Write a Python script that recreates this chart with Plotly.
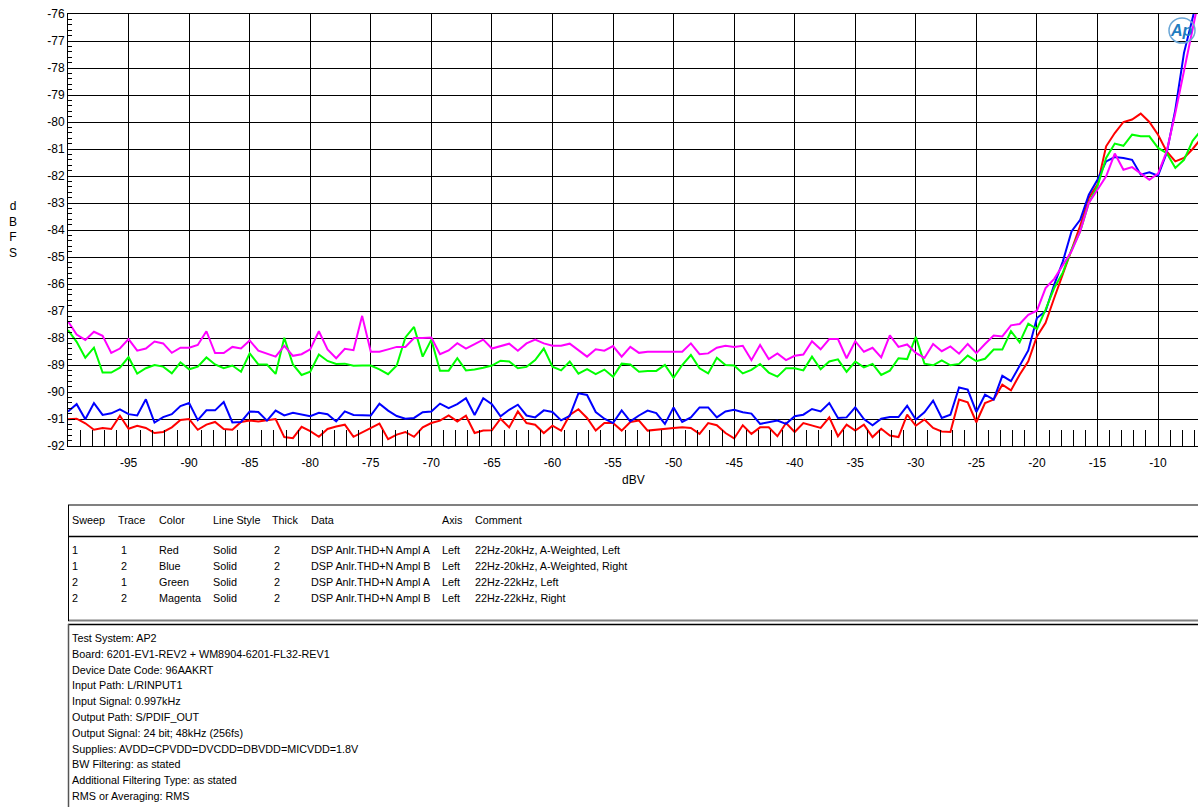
import numpy as np
import plotly.graph_objects as go

# ---------------- data ----------------
sweep_start = -100.0
sweep_step = 5.0 / 7.0
n_points = 132
dbv = [round(sweep_start + i * sweep_step, 4) for i in range(n_points)]

red = [-91.01, -90.99, -91.16, -91.40, -91.33, -91.37, -90.88, -91.36, -91.25, -91.33,
       -91.52, -91.48, -91.31, -91.04, -91.00, -91.40, -91.21, -91.11, -91.37, -91.40,
       -91.11, -91.06, -91.09, -91.04, -91.00, -91.67, -91.71, -91.29, -91.45, -91.66,
       -91.37, -91.28, -91.21, -91.66, -91.49, -91.33, -91.17, -91.75, -91.58, -91.48,
       -91.66, -91.31, -91.15, -91.06, -90.87, -91.09, -90.88, -91.52, -91.43, -91.42,
       -90.99, -91.31, -90.72, -91.15, -91.21, -91.52, -91.25, -91.43, -90.85, -90.64,
       -90.96, -91.43, -91.15, -91.15, -91.43, -91.11, -91.06, -91.43, -91.39, -91.36,
       -91.33, -91.31, -91.33, -91.55, -91.15, -91.23, -91.52, -91.72, -91.23, -91.55,
       -91.31, -91.31, -91.64, -91.15, -91.48, -91.15, -91.25, -91.33, -90.94, -91.64,
       -91.21, -91.43, -91.21, -91.67, -91.36, -91.61, -91.67, -90.84, -91.25, -91.02,
       -91.33, -91.46, -91.48, -90.28, -90.38, -91.12, -90.41, -90.28, -89.73, -89.94,
       -89.36, -88.86, -87.94, -87.44, -86.52, -85.65, -84.73, -83.85, -82.81, -82.32,
       -80.90, -80.41, -80.00, -79.91, -79.69, -80.00, -80.47, -81.09, -81.46, -81.33,
       -81.00, -80.60]

blue = [-90.72, -90.45, -91.01, -90.41, -90.85, -90.79, -90.64, -90.82, -90.87, -90.27,
        -91.13, -90.93, -90.82, -90.52, -90.41, -91.04, -90.68, -90.68, -90.37, -91.13,
        -91.11, -90.72, -90.74, -91.06, -90.69, -90.87, -90.77, -90.83, -90.90, -90.77,
        -90.82, -91.09, -90.72, -90.85, -90.85, -90.87, -90.43, -90.69, -90.89, -90.99,
        -90.96, -90.75, -90.72, -90.43, -90.60, -90.45, -90.23, -90.85, -90.23, -90.45,
        -90.90, -90.66, -90.47, -90.87, -90.94, -90.68, -90.74, -91.05, -90.88, -90.05,
        -90.11, -90.74, -90.99, -91.15, -90.68, -91.09, -90.87, -90.69, -90.78, -91.18,
        -90.57, -91.11, -90.94, -90.57, -90.57, -90.94, -90.72, -90.66, -90.75, -90.80,
        -91.18, -91.12, -91.06, -91.18, -90.90, -90.84, -90.63, -90.72, -90.41, -90.96,
        -90.94, -90.57, -91.00, -91.23, -90.99, -90.93, -90.93, -90.51, -91.02, -90.75,
        -90.32, -90.96, -90.84, -89.83, -89.91, -90.74, -90.10, -90.28, -89.40, -89.60,
        -89.01, -88.46, -87.26, -87.01, -86.02, -85.16, -84.05, -83.62, -82.69, -82.14,
        -81.46, -81.30, -81.33, -81.40, -81.95, -81.86, -81.99, -81.15, -79.54, -77.44,
        -76.15, -74.80]

green = [-87.71, -88.14, -88.73, -88.36, -89.28, -89.28, -89.10, -88.71, -89.32, -89.12,
         -89.00, -89.06, -89.31, -88.90, -89.16, -89.06, -88.72, -88.98, -89.12, -89.02,
         -89.25, -88.57, -88.98, -88.98, -89.33, -87.99, -88.98, -89.37, -89.25, -88.61,
         -88.85, -88.96, -88.95, -89.03, -89.02, -89.02, -89.16, -89.34, -89.02, -87.98,
         -87.59, -88.69, -88.06, -89.21, -89.21, -88.75, -89.20, -89.17, -89.10, -89.02,
         -88.84, -88.87, -89.12, -89.07, -88.82, -88.39, -89.06, -89.20, -88.87, -89.32,
         -89.15, -89.34, -89.17, -89.44, -88.95, -88.98, -89.25, -89.22, -89.22, -89.00,
         -89.47, -89.00, -88.63, -89.12, -89.31, -88.73, -89.00, -89.02, -89.31, -89.18,
         -88.96, -89.28, -89.43, -89.12, -89.12, -89.20, -88.69, -89.16, -88.87, -88.79,
         -89.25, -88.87, -89.09, -88.96, -89.37, -89.21, -88.75, -88.78, -87.96, -88.95,
         -89.01, -88.83, -89.01, -88.96, -88.65, -88.86, -88.77, -88.43, -88.43, -87.75,
         -88.16, -87.47, -87.67, -86.95, -86.15, -85.57, -84.73, -84.05, -83.00, -82.38,
         -81.33, -80.80, -80.88, -80.47, -80.53, -80.53, -80.96, -81.15, -81.70, -81.40,
         -80.70, -80.30]

magenta = [-87.38, -87.87, -88.07, -87.77, -87.92, -88.55, -88.39, -88.04, -88.47, -88.39,
           -88.13, -88.20, -88.55, -88.36, -88.36, -88.26, -87.75, -88.56, -88.56, -88.33,
           -88.39, -88.09, -88.47, -88.58, -88.69, -88.29, -88.66, -88.60, -88.42, -87.75,
           -88.42, -88.75, -88.40, -88.45, -87.18, -88.51, -88.51, -88.42, -88.33, -88.33,
           -88.00, -88.00, -87.98, -88.60, -88.46, -88.19, -88.39, -88.23, -88.06, -88.39,
           -88.31, -88.21, -88.47, -88.20, -88.06, -88.20, -88.29, -88.29, -88.21, -88.44,
           -88.69, -88.42, -88.47, -88.30, -88.69, -88.33, -88.55, -88.51, -88.51, -88.51,
           -88.51, -88.51, -88.20, -88.60, -88.57, -88.36, -88.29, -88.33, -88.29, -88.82,
           -88.26, -88.78, -88.57, -88.82, -88.66, -88.61, -88.12, -88.42, -88.04, -88.04,
           -88.75, -88.12, -88.51, -88.36, -88.72, -87.90, -88.33, -88.24, -88.55, -88.74,
           -88.22, -88.49, -88.31, -88.58, -88.22, -88.56, -88.22, -87.91, -87.94, -87.53,
           -87.48, -87.14, -86.99, -86.15, -85.81, -85.28, -84.79, -84.05, -83.00, -82.51,
           -82.01, -81.17, -81.77, -81.67, -81.89, -82.14, -81.91, -81.09, -79.67, -78.06,
           -76.46, -75.00]

x_tick_vals = [-95, -90, -85, -80, -75, -70, -65, -60, -55, -50, -45, -40, -35, -30, -25, -20, -15, -10]
x_tick_text = [str(v) for v in x_tick_vals]
y_tick_vals = list(range(-92, -75))
y_tick_text = [str(v) for v in y_tick_vals]

table_header = ["Sweep", "Trace", "Color", "Line Style", "Thick", "Data", "Axis", "Comment"]
table_rows = [
    ["1", "1", "Red", "Solid", "2", "DSP Anlr.THD+N Ampl A", "Left", "22Hz-20kHz, A-Weighted, Left"],
    ["1", "2", "Blue", "Solid", "2", "DSP Anlr.THD+N Ampl B", "Left", "22Hz-20kHz, A-Weighted, Right"],
    ["2", "1", "Green", "Solid", "2", "DSP Anlr.THD+N Ampl A", "Left", "22Hz-22kHz, Left"],
    ["2", "2", "Magenta", "Solid", "2", "DSP Anlr.THD+N Ampl B", "Left", "22Hz-22kHz, Right"],
]
notes = [
    "Test System: AP2",
    "Board: 6201-EV1-REV2 + WM8904-6201-FL32-REV1",
    "Device Date Code: 96AAKRT",
    "Input Path: L/RINPUT1",
    "Input Signal: 0.997kHz",
    "Output Path: S/PDIF_OUT",
    "Output Signal: 24 bit; 48kHz (256fs)",
    "Supplies: AVDD=CPVDD=DVCDD=DBVDD=MICVDD=1.8V",
    "BW Filtering: as stated",
    "Additional Filtering Type: as stated",
    "RMS or Averaging: RMS",
]

# ---------------- layout helpers ----------------
W, H = 1198, 807
ML, MR, MT, MB = 68, 0, 14, 361
PW = W - ML - MR          # 1130
PH = H - MT - MB          # 432
FONT = "Liberation Sans, Arial, sans-serif"


def px(xs):
    """screen x -> paper x"""
    return (xs - ML) / PW


def py(ys):
    """screen y -> paper y"""
    return (H - MB - ys) / PH


fig = go.Figure()
series = [("Red", red, "#ff0000"), ("Blue", blue, "#0000ff"),
          ("Green", green, "#00ff00"), ("Magenta", magenta, "#ff00ff")]
for name, vals, col in series:
    fig.add_trace(go.Scatter(x=dbv, y=vals, mode="lines", name=name,
                             line=dict(color=col, width=2), showlegend=False,
                             cliponaxis=True, hoverinfo="skip"))

annotations = []
shapes = []

# axis titles
annotations.append(dict(x=px(633), y=py(480), xref="paper", yref="paper", text="dBV",
                        showarrow=False, font=dict(family=FONT, size=12, color="black"),
                        xanchor="center", yanchor="middle"))
annotations.append(dict(x=px(13), y=py(229), xref="paper", yref="paper",
                        text="d<br>B<br>F<br>S", showarrow=False,
                        font=dict(family=FONT, size=12, color="black"),
                        xanchor="center", yanchor="middle"))
# Ap logo
annotations.append(dict(x=px(1181), y=py(30), xref="paper", yref="paper",
                        text="<b><i>Ap</i></b>", showarrow=False,
                        font=dict(family=FONT, size=16, color="#1f7cc0"),
                        xanchor="center", yanchor="middle"))
shapes.append(dict(type="circle", xref="paper", yref="paper",
                   x0=px(1169), x1=px(1195), y0=py(43), y1=py(18),
                   line=dict(color="#6aa6d6", width=1.5)))

# table
col_x = [70, 116, 157, 211, 270, 309, 440, 473]
row_val_x = [70, 119, 157, 211, 272, 309, 440, 473]
tfont = dict(family=FONT, size=10.8, color="black")
for cx, t in zip(col_x, table_header):
    annotations.append(dict(x=px(cx), y=py(520), xref="paper", yref="paper", text=t,
                            showarrow=False, font=tfont, xanchor="left", yanchor="middle"))
row_y = [550, 566, 582, 598]
for ry, row in zip(row_y, table_rows):
    for cx, t in zip(row_val_x, row):
        annotations.append(dict(x=px(cx), y=py(ry), xref="paper", yref="paper", text=t,
                                showarrow=False, font=tfont, xanchor="left", yanchor="middle"))
for i, t in enumerate(notes):
    annotations.append(dict(x=px(70), y=py(638 + i * 15.8), xref="paper", yref="paper", text=t,
                            showarrow=False, font=tfont, xanchor="left", yanchor="middle"))


def hline(y, color, width):
    shapes.append(dict(type="line", xref="paper", yref="paper", x0=px(68), x1=px(1198),
                       y0=py(y), y1=py(y), line=dict(color=color, width=width)))


hline(505, "#808080", 2)
hline(536.5, "black", 1.5)
hline(620.5, "#808080", 2)
hline(624.5, "black", 1.5)
shapes.append(dict(type="line", xref="paper", yref="paper", x0=px(68.5), x1=px(68.5),
                   y0=py(505), y1=py(621), line=dict(color="black", width=1)))
shapes.append(dict(type="line", xref="paper", yref="paper", x0=px(68.5), x1=px(68.5),
                   y0=py(624), y1=py(807), line=dict(color="#555555", width=1.5)))

fig.update_layout(
    width=W, height=H,
    margin=dict(l=ML, r=MR, t=MT, b=MB, pad=0),
    paper_bgcolor="white", plot_bgcolor="white",
    showlegend=False,
    hovermode=False,
    font=dict(family=FONT, size=12, color="black"),
    annotations=annotations, shapes=shapes,
    xaxis=dict(range=[-100, -6.7], tickmode="array", tickvals=x_tick_vals, ticktext=x_tick_text,
               showgrid=True, gridcolor="black", gridwidth=1, zeroline=False,
               ticks="inside", ticklen=16, tickcolor="black", tickwidth=1,
               showline=True, linecolor="black", linewidth=1, mirror=True,
               ticklabelstandoff=6,
               minor=dict(dtick=1, tick0=-100, ticks="inside", ticklen=16, tickcolor="black",
                          tickwidth=1, showgrid=False),
               tickfont=dict(family=FONT, size=12, color="black")),
    yaxis=dict(range=[-92, -76], tickmode="array", tickvals=y_tick_vals, ticktext=y_tick_text,
               showgrid=True, gridcolor="black", gridwidth=1, zeroline=False,
               ticks="inside", ticklen=7, tickcolor="black", tickwidth=1,
               showline=True, linecolor="black", linewidth=1, mirror=False,
               minor=dict(dtick=0.2, tick0=-92, ticks="inside", ticklen=4, tickcolor="black",
                          tickwidth=1, showgrid=False),
               tickfont=dict(family=FONT, size=12, color="black")),
)

fig.write_html(
    "out.html",
    config={"displayModeBar": False},
    post_script="document.body.style.margin='0px';document.body.style.overflow='hidden';",
)
